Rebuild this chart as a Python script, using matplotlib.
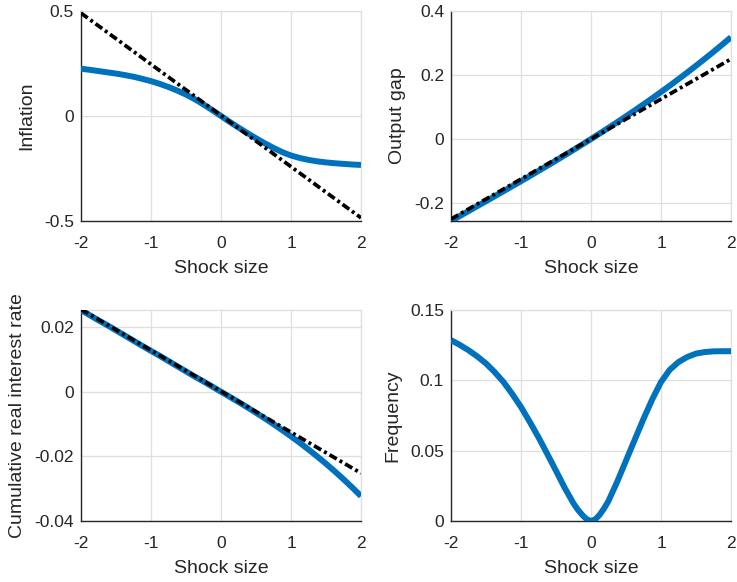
import matplotlib
matplotlib.use("Agg")
import matplotlib.pyplot as plt

plt.rcParams['font.family'] = ['Liberation Sans', 'DejaVu Sans']

shock = [-2.0, -1.875, -1.75, -1.625, -1.5, -1.375, -1.25, -1.125, -1.0,
         -0.875, -0.75, -0.625, -0.5, -0.375, -0.25, -0.125, 0.0,
         0.125, 0.25, 0.375, 0.5, 0.625, 0.75, 0.875, 1.0,
         1.125, 1.25, 1.375, 1.5, 1.625, 1.75, 1.875, 2.0]

inflation = [0.225, 0.220, 0.214, 0.208, 0.202, 0.195, 0.187, 0.177, 0.166,
             0.153, 0.138, 0.121, 0.102, 0.080, 0.055, 0.028, 0.0,
             -0.028, -0.055, -0.081, -0.106, -0.130, -0.152, -0.172, -0.188,
             -0.200, -0.209, -0.216, -0.221, -0.225, -0.228, -0.231, -0.233]

output_gap = [-0.256, -0.2406, -0.2251, -0.2096, -0.1942, -0.1786, -0.1630, -0.1472, -0.1316,
              -0.1157, -0.0996, -0.0835, -0.0672, -0.0507, -0.0340, -0.0171, 0.0,
              0.0174, 0.0350, 0.0529, 0.0711, 0.0896, 0.1084, 0.1275, 0.1470,
              0.1669, 0.1872, 0.2079, 0.2290, 0.2506, 0.2725, 0.2951, 0.318]

real_rate = [0.0253, 0.0237, 0.0221, 0.0206, 0.0190, 0.0174, 0.0158, 0.0142, 0.01265,
             0.0111, 0.0095, 0.0079, 0.0063, 0.0047, 0.0032, 0.0016, 0.0,
             -0.00157, -0.00317, -0.00481, -0.0065, -0.00823, -0.01003, -0.01188, -0.0138,
             -0.01579, -0.01787, -0.02003, -0.02228, -0.02463, -0.02708, -0.02963, -0.0323]

freq_shock = [-2.0, -1.875, -1.75, -1.625, -1.5, -1.375, -1.25, -1.125, -1.0,
              -0.875, -0.75, -0.625, -0.5, -0.375, -0.25, -0.1875, -0.125, -0.0625, 0.0,
              0.0625, 0.125, 0.1875, 0.25, 0.375, 0.5, 0.625, 0.75, 0.875, 1.0,
              1.125, 1.25, 1.375, 1.5, 1.625, 1.75, 1.875, 2.0]
frequency = [0.1286, 0.1252, 0.1214, 0.1170, 0.1120, 0.1058, 0.0988, 0.0903, 0.0810,
             0.0705, 0.0595, 0.0477, 0.0357, 0.0235, 0.0125, 0.0080, 0.0043, 0.0013, 0.0,
             0.0012, 0.0045, 0.0090, 0.0143, 0.0280, 0.0429, 0.0578, 0.0726, 0.0865, 0.0988,
             0.1075, 0.1130, 0.1166, 0.1190, 0.1201, 0.1206, 0.1207, 0.1207]

linear_x = [-2.0, 2.0]
linear_inflation = [0.49, -0.485]
linear_output_gap = [-0.25, 0.25]
linear_real_rate = [0.0255, -0.0252]

xticks = [-2, -1, 0, 1, 2]
xtick_labels = ['-2', '-1', '0', '1', '2']

panels = [
    ("Inflation", shock, inflation, linear_inflation, (-0.5, 0.5),
     [-0.5, 0, 0.5], ['-0.5', '0', '0.5']),
    ("Output gap", shock, output_gap, linear_output_gap, (-0.256, 0.4),
     [-0.2, 0, 0.2, 0.4], ['-0.2', '0', '0.2', '0.4']),
    ("Cumulative real interest rate", shock, real_rate, linear_real_rate, (-0.04, 0.0253),
     [-0.04, -0.02, 0, 0.02], ['-0.04', '-0.02', '0', '0.02']),
    ("Frequency", freq_shock, frequency, None, (0, 0.15),
     [0, 0.05, 0.1, 0.15], ['0', '0.05', '0.1', '0.15']),
]

W, H = 737, 582
fig = plt.figure(figsize=(W / 100, H / 100), dpi=100)

boxes = [(81, 361, 11, 221), (451, 731, 11, 221), (81, 361, 310, 521), (451, 731, 310, 521)]
blue = '#0072BD'
dark = '#262626'
gridc = '#DFDFDF'

for (label, xs, yvals, lin, ylim, yt, ytl), (l, r, t, b) in zip(panels, boxes):
    ax = fig.add_axes([l / W, (H - b) / H, (r - l) / W, (b - t) / H])
    ax.plot(xs, yvals, color=blue, lw=4.3, solid_capstyle='butt',
            solid_joinstyle='round', zorder=3)
    if lin is not None:
        ax.plot(linear_x, lin, color='black', lw=2.7,
                linestyle=(0, (2.2, 0.9, 0.8, 0.9)), zorder=4)
    ax.set_xlim(-2, 2)
    ax.set_ylim(*ylim)
    ax.set_xticks(xticks)
    ax.set_xticklabels(xtick_labels)
    ax.set_yticks(yt)
    ax.set_yticklabels(ytl)
    ax.grid(True, color=gridc, lw=0.9)
    ax.set_axisbelow(True)
    for s in ['top', 'right']:
        ax.spines[s].set_color(gridc)
        ax.spines[s].set_linewidth(0.9)
    for s in ['left', 'bottom']:
        ax.spines[s].set_color(dark)
        ax.spines[s].set_linewidth(1.0)
    ax.tick_params(direction='in', length=0, colors=dark, labelsize=12.5)
    ax.tick_params(axis='x', pad=11)
    ax.tick_params(axis='y', pad=5)
    ax.set_xlabel("Shock size", fontsize=14, color=dark, labelpad=6)
    ax.set_ylabel(label, fontsize=14, color=dark, labelpad=6)

fig.savefig("out.png", dpi=100)
